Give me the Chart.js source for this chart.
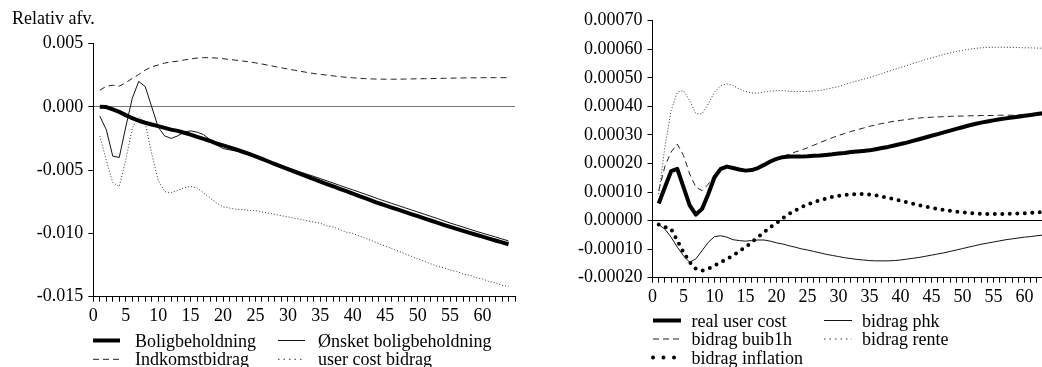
<!DOCTYPE html>
<html lang="da">
<head>
<meta charset="utf-8">
<title>Relativ afvigelse</title>
<script src="https://cdn.jsdelivr.net/npm/chart.js@4.4.1/dist/chart.umd.min.js"></script>
<style>
  html, body { margin: 0; padding: 0; background: #fff; }
  body { position: relative; width: 1042px; height: 367px; overflow: hidden; }
  canvas { position: absolute; top: 0; }
  #chartLeft { left: 0; }
  #chartRight { left: 520px; }
</style>
</head>
<body>
<canvas id="chartLeft" width="520" height="367"></canvas>
<canvas id="chartRight" width="540" height="367"></canvas>
<script>
/* ===== DATA ===== */
const periods = Array.from({ length: 64 }, (_, i) => i + 1);

const boligbeholdning = [
  0, -0.00002, -0.0002, -0.0004, -0.00066, -0.0009, -0.0011, -0.00126, -0.0014, -0.00153,
  -0.00166, -0.0018, -0.0019, -0.00205, -0.0022, -0.00237, -0.00253, -0.0027, -0.0029, -0.00305,
  -0.0032, -0.00337, -0.00355, -0.00372, -0.00392, -0.00412, -0.00432, -0.00452, -0.00472, -0.00492,
  -0.00512, -0.00532, -0.00552, -0.00572, -0.00591, -0.0061, -0.00629, -0.00648, -0.00667, -0.00686,
  -0.00705, -0.00724, -0.00743, -0.00762, -0.00779, -0.00796, -0.00813, -0.0083, -0.00847, -0.00864,
  -0.00881, -0.00898, -0.00915, -0.00932, -0.00948, -0.00964, -0.0098, -0.00996, -0.01011, -0.01026,
  -0.01041, -0.01056, -0.01071, -0.01086
];
const oensketBolig = [
  -0.00074, -0.0018, -0.0039, -0.004, -0.0016, 0.00066, 0.002, 0.0016, 0, -0.0016,
  -0.0023, -0.0025, -0.0023, -0.002, -0.0019, -0.002, -0.0022, -0.0026, -0.003, -0.0033,
  -0.0034, -0.0035, -0.0036, -0.0037, -0.0039, -0.00408, -0.00426, -0.00446, -0.00464, -0.00482,
  -0.00499, -0.00517, -0.00533, -0.0055, -0.00567, -0.00585, -0.00603, -0.00621, -0.00639, -0.00656,
  -0.00674, -0.00692, -0.0071, -0.00729, -0.00746, -0.00763, -0.0078, -0.00797, -0.00814, -0.00831,
  -0.00848, -0.00865, -0.00882, -0.009, -0.00918, -0.00934, -0.0095, -0.00967, -0.00983, -0.00998,
  -0.01013, -0.01028, -0.01044, -0.01059
];
const indkomstbidrag = [
  0.0013, 0.00163, 0.0017, 0.00163, 0.0019, 0.00224, 0.00255, 0.0029, 0.00316, 0.0033,
  0.00345, 0.00355, 0.0036, 0.0037, 0.00378, 0.00385, 0.00388, 0.00388, 0.00385, 0.0038,
  0.00374, 0.00368, 0.00362, 0.00355, 0.00347, 0.00338, 0.00328, 0.00318, 0.00308, 0.00298,
  0.00289, 0.0028, 0.00271, 0.00263, 0.00256, 0.0025, 0.00244, 0.00238, 0.00233, 0.00229,
  0.00225, 0.00222, 0.0022, 0.00219, 0.00218, 0.00218, 0.00218, 0.00219, 0.0022, 0.00221,
  0.00222, 0.00223, 0.00224, 0.00225, 0.00226, 0.00227, 0.00228, 0.00229, 0.00229, 0.0023,
  0.0023, 0.0023, 0.0023, 0.0023
];
const userCostBidrag = [
  -0.0023, -0.0042, -0.006, -0.0063, -0.0042, -0.0017, -0.0008, -0.0013, -0.0037, -0.0058,
  -0.0067, -0.0068, -0.0066, -0.0064, -0.0063, -0.0064, -0.0068, -0.0072, -0.0076, -0.0079,
  -0.008, -0.0081, -0.0081, -0.0082, -0.0082, -0.0083, -0.0084, -0.0085, -0.0086, -0.0087,
  -0.0088, -0.0089, -0.009, -0.0091, -0.0092, -0.0094, -0.0095, -0.0097, -0.0099, -0.01,
  -0.0102, -0.0104, -0.0106, -0.0108, -0.011, -0.0112, -0.0114, -0.0116, -0.0118, -0.012,
  -0.0122, -0.0124, -0.0126, -0.0127, -0.0129, -0.013, -0.0132, -0.0133, -0.0135, -0.0136,
  -0.0138, -0.0139, -0.0141, -0.0142
];

const realUserCost = [
  0.00006, 0.000117, 0.000173, 0.000181, 0.000117, 0.000053, 0.000021, 0.000041, 0.000093, 0.000152,
  0.000181, 0.000189, 0.000184, 0.000179, 0.000175, 0.000177, 0.000184, 0.000195, 0.000207, 0.000216,
  0.000222, 0.000224, 0.000224, 0.000224, 0.000225, 0.000227, 0.000228, 0.00023, 0.000232, 0.000235,
  0.000237, 0.00024, 0.000242, 0.000244, 0.000246, 0.00025, 0.000254, 0.000258, 0.000263, 0.000268,
  0.000273, 0.000279, 0.000285, 0.000291, 0.000297, 0.000303, 0.000309, 0.000315, 0.000321, 0.000327,
  0.000333, 0.000338, 0.000343, 0.000347, 0.000351, 0.000355, 0.000358, 0.000361, 0.000364, 0.000367,
  0.00037, 0.000373, 0.000376, 0.000379
];
const bidragPhk = [
  -0.000014, -0.00003, -0.000058, -0.000093, -0.000123, -0.000146, -0.000134, -0.000105, -0.000076, -0.000056,
  -0.000053, -0.000058, -0.000067, -0.00007, -0.000072, -0.00007, -0.000068, -0.000068, -0.000072, -0.000078,
  -0.000082, -0.000088, -0.000093, -0.000099, -0.000103, -0.000108, -0.000113, -0.000118, -0.000122, -0.000126,
  -0.00013, -0.000133, -0.000136, -0.000138, -0.00014, -0.000141, -0.000141, -0.000141, -0.00014, -0.000138,
  -0.000135, -0.000132, -0.000129, -0.000125, -0.000121, -0.000117, -0.000113, -0.000108, -0.000103, -0.000098,
  -0.000093, -0.000088, -0.000083, -0.000079, -0.000075, -0.000071, -0.000067, -0.000064, -0.000061, -0.000058,
  -0.000056, -0.000053, -0.000051, -0.000049
];
const bidragBuib1h = [
  0.000105, 0.00019, 0.00024, 0.000268, 0.000228, 0.000163, 0.000117, 0.000105, 0.000128, 0.000158,
  0.000181, 0.000189, 0.000185, 0.00018, 0.000177, 0.000179, 0.000186, 0.000197, 0.000209, 0.000218,
  0.000226, 0.000232, 0.00024, 0.000247, 0.000255, 0.000264, 0.000273, 0.000282, 0.00029, 0.000298,
  0.000305, 0.000312, 0.000318, 0.000324, 0.00033, 0.000335, 0.00034, 0.000344, 0.000348, 0.000351,
  0.000354, 0.000357, 0.000359, 0.000361, 0.000362, 0.000363, 0.000364, 0.000365, 0.000366, 0.000366,
  0.000367, 0.000367, 0.000368, 0.000368, 0.000368, 0.000369, 0.000369, 0.000369, 0.00037, 0.00037,
  0.00037, 0.000371, 0.000371, 0.000372
];
const bidragRente = [
  0.000093, 0.000257, 0.000385, 0.00045, 0.000455, 0.00042, 0.000374, 0.000374, 0.000409, 0.00045,
  0.000473, 0.000479, 0.000473, 0.000461, 0.000452, 0.000447, 0.000446, 0.00045, 0.000453, 0.000455,
  0.000455, 0.000453, 0.000452, 0.000452, 0.000452, 0.000454, 0.000456, 0.00046, 0.000465, 0.00047,
  0.000476, 0.000483, 0.000489, 0.000495, 0.000501, 0.000508, 0.000515, 0.000522, 0.000529, 0.000536,
  0.000543, 0.00055, 0.000557, 0.000564, 0.00057, 0.000576, 0.000582, 0.000587, 0.000592, 0.000596,
  0.0006, 0.000603, 0.000605, 0.000606, 0.000607, 0.000607, 0.000607, 0.000606, 0.000606, 0.000605,
  0.000605, 0.000604, 0.000604, 0.000603
];
const bidragInflation = [
  -0.000014, -0.000023, -0.000029, -0.00007, -0.000111, -0.000146, -0.000169, -0.000175, -0.000169, -0.000158,
  -0.000146, -0.000134, -0.000123, -0.000107, -0.000093, -0.000076, -0.000058, -0.000041, -0.000023, -0.000009,
  0.000008, 0.000023, 0.000035, 0.000047, 0.000056, 0.000064, 0.000071, 0.000077, 0.000083, 0.000087,
  0.00009, 0.000092, 0.000093, 0.000093, 0.000091, 0.000088, 0.000084, 0.00008, 0.000075, 0.00007,
  0.000064, 0.000059, 0.000054, 0.000049, 0.000045, 0.000041, 0.000037, 0.000034, 0.000031, 0.000029,
  0.000027, 0.000025, 0.000024, 0.000023, 0.000023, 0.000023, 0.000023, 0.000024, 0.000025, 0.000026,
  0.000027, 0.000029, 0.00003, 0.000032
];

/* ===== STYLE ===== */
const FONT = "'Liberation Serif', 'Times New Roman', serif";
Chart.defaults.font.family = FONT;
Chart.defaults.font.size = 18;
Chart.defaults.color = '#000';

const thick  = { borderColor: '#000', borderWidth: 4, borderJoinStyle: 'round' };
const thin   = { borderColor: '#111', borderWidth: 1 };
const dashed = { borderColor: '#222', borderWidth: 1, borderDash: [6, 4] };
const dotted = { borderColor: '#333', borderWidth: 1, borderDash: [1, 2], legendDash: [1.5, 4] };
const bigDot = { borderColor: '#000', borderWidth: 4, borderDash: [0, 7.5], borderCapStyle: 'round', legendDash: [0, 10.5] };

// Legend in a grid (two columns), samples drawn with the dataset's own stroke
const legendRows = {
  id: 'legendRows',
  afterDraw(chart, args, opts) {
    const ctx = chart.ctx;
    ctx.save();
    ctx.font = '18px ' + FONT;
    ctx.fillStyle = '#000';
    ctx.textBaseline = 'alphabetic';
    chart.data.datasets.forEach((ds, i) => {
      const col = i % 2, row = Math.floor(i / 2);
      const x = opts.sampleX[col], y = opts.rows[row];
      ctx.beginPath();
      ctx.lineWidth = ds.borderWidth;
      ctx.strokeStyle = ds.borderColor;
      ctx.lineCap = ds.borderCapStyle || 'butt';
      ctx.setLineDash(ds.legendDash || ds.borderDash || []);
      ctx.moveTo(x, y - 6);
      ctx.lineTo(x + opts.sampleW, y - 6);
      ctx.stroke();
      ctx.fillText(ds.label, opts.textX[col], y);
    });
    if (opts.note) ctx.fillText(opts.note.text, opts.note.x, opts.note.y);
    ctx.restore();
  }
};

// toFixed uden "-0.00000" ved nul
function fmt(v, digits) {
  return (Math.abs(v) < 1e-12 ? 0 : v).toFixed(digits);
}

function makeOptions(cfg) {
  return {
    responsive: false,
    animation: false,
    layout: { padding: cfg.padding },
    elements: { point: { radius: 0 }, line: { tension: 0, fill: false } },
    plugins: {
      legend: { display: false },
      tooltip: { enabled: false },
      legendRows: cfg.legend
    },
    scales: {
      x: {
        type: 'linear', min: 0, max: 65,
        border: { color: '#000', width: 1 },
        grid: { drawOnChartArea: false, tickLength: 5, tickColor: '#000' },
        ticks: {
          stepSize: 1, autoSkip: false, maxRotation: 0, padding: 4,
          callback: v => (v % 5 === 0 && v <= 60) ? String(v) : ''
        },
        afterFit: s => { s.height = 30; }
      },
      y: {
        min: cfg.min, max: cfg.max,
        border: { color: '#000', width: 1 },
        grid: {
          tickLength: 5, tickColor: '#000',
          color: c => (c.tick && Math.abs(c.tick.value) < 1e-12) ? cfg.zeroColor : 'rgba(0,0,0,0)'
        },
        ticks: { stepSize: cfg.step, padding: 5, callback: v => fmt(v, cfg.digits) },
        afterFit: s => { s.width = cfg.axisWidth; }
      }
    }
  };
}

/* ===== VENSTRE DIAGRAM ===== */
new Chart(document.getElementById('chartLeft'), {
  type: 'line',
  data: {
    labels: periods,
    datasets: [
      { label: 'Boligbeholdning', data: boligbeholdning, ...thick },
      { label: 'Ønsket boligbeholdning', data: oensketBolig, ...thin },
      { label: 'Indkomstbidrag', data: indkomstbidrag, ...dashed },
      { label: 'user cost bidrag', data: userCostBidrag, ...dotted }
    ]
  },
  options: makeOptions({
    padding: { top: 43.5, right: 5, bottom: 40.3, left: 0 },
    min: -0.015, max: 0.005, step: 0.005, digits: 3,
    axisWidth: 93.3, zeroColor: '#777',
    legend: {
      sampleX: [93, 278], textX: [135, 318], sampleW: 27,
      rows: [346.5, 365.3],
      note: { text: 'Relativ afv.', x: 12, y: 24 }
    }
  }),
  plugins: [legendRows]
});

/* ===== HØJRE DIAGRAM ===== */
new Chart(document.getElementById('chartRight'), {
  type: 'line',
  data: {
    labels: periods,
    datasets: [
      { label: 'real user cost', data: realUserCost, ...thick },
      { label: 'bidrag phk', data: bidragPhk, ...thin },
      { label: 'bidrag buib1h', data: bidragBuib1h, ...dashed },
      { label: 'bidrag rente', data: bidragRente, ...dotted },
      { label: 'bidrag inflation', data: bidragInflation, ...bigDot }
    ]
  },
  options: makeOptions({
    padding: { top: 20.7, right: 4.5, bottom: 59.3, left: 0 },
    min: -0.0002, max: 0.0007, step: 0.0001, digits: 5,
    axisWidth: 132.5, zeroColor: '#000',
    legend: {
      sampleX: [133, 304], textX: [171.5, 342], sampleW: 28,
      rows: [326.5, 345, 363.5]
    }
  }),
  plugins: [legendRows]
});
</script>
</body>
</html>
